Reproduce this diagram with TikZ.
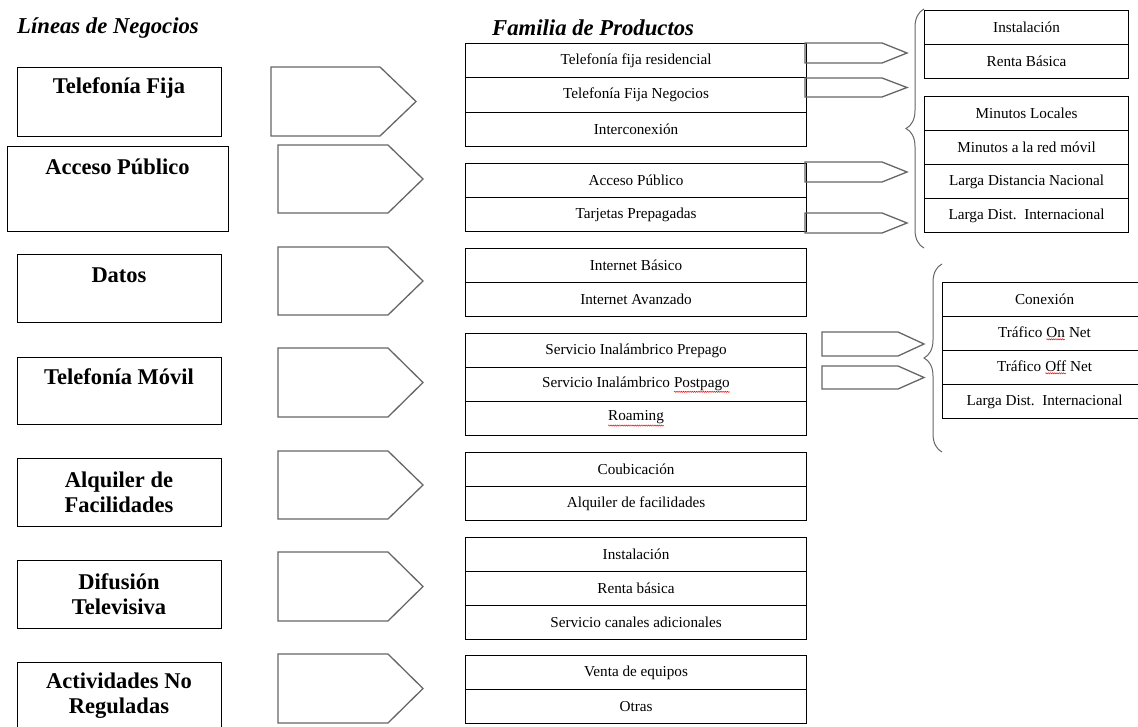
\documentclass[tikz,border=0pt]{standalone}
\usepackage{fontspec}
\setmainfont{Liberation Serif}
\usetikzlibrary{decorations.pathreplacing,decorations.pathmorphing}
% red wavy underline of a spell-checker
\newcommand\spellmark[1]{\tikz[baseline=(sw.base)]{%
  \node[inner sep=0pt,outer sep=0pt,draw=none,minimum width=0pt,minimum height=0pt] (sw) {#1};
  \draw[red,line width=0.5pt,decorate,decoration={snake,amplitude=0.6pt,segment length=2.2pt}]
    ([yshift=-1.5pt]sw.south west) -- ([yshift=-1.5pt]sw.south east);}}
\begin{document}
\begin{tikzpicture}[x=1pt,y=-1pt,
  cell/.style={draw=black,line width=1.1pt,rectangle,inner sep=0pt,anchor=north west,
    minimum height=34pt,font=\fontsize{15.2}{17}\selectfont},
  pcell/.style={cell,minimum width=341pt},
  rcell/.style={cell,minimum width=204pt},
  mcell/.style={cell,minimum width=204pt},
  linebox/.style={draw=black,line width=1.2pt,rectangle,inner sep=0pt,anchor=north west},
  linetext/.style={font=\fontsize{22.5}{25}\selectfont\bfseries,align=center,inner sep=0pt},
  heading/.style={font=\fontsize{22.7}{25}\selectfont\bfseries\itshape,inner sep=0pt,anchor=west},
  blockarrow/.style={draw=black!60,line width=1.3pt,line join=miter},
  curly/.style={draw=black!60,line width=1pt,decorate,decoration={brace,amplitude=18pt}},
]
\clip (0,0) rectangle (1138,727);

% headings
\node[heading] (hLineas) at (17,28) {Líneas de Negocios};
\node[heading] (hFamilia) at (492,28) {Familia de Productos};

% business lines
\node[linebox,minimum width=204pt,minimum height=69pt] (bTF) at (17,67) {};
\node[linetext] (bTFt) at (119,88) {Telefonía Fija};
\node[linebox,minimum width=221pt,minimum height=85pt] (bAP) at (7,146) {};
\node[linetext] (bAPt) at (117.5,167) {Acceso Público};
\node[linebox,minimum width=204pt,minimum height=68pt] (bDa) at (17,254) {};
\node[linetext] (bDat) at (119,275) {Datos};
\node[linebox,minimum width=204pt,minimum height=67pt] (bTM) at (17,357) {};
\node[linetext] (bTMt) at (119,377) {Telefonía Móvil};
\node[linebox,minimum width=204pt,minimum height=68pt] (bAF) at (17,458) {};
\node[linetext] (bAFt) at (119,492.5) {Alquiler de\\Facilidades};
\node[linebox,minimum width=204pt,minimum height=68pt] (bDT) at (17,560) {};
\node[linetext] (bDTt) at (119,594.5) {Difusión\\Televisiva};
\node[linebox,minimum width=204pt,minimum height=90pt] (bAN) at (17,662) {};
\node[linetext] (bANt) at (119,695.5) {Actividades No\\Reguladas};

% large block arrows
\draw[blockarrow] (271,67) -- (380,67) -- (416,101.5) -- (380,136) -- (271,136) -- cycle;
\foreach \t/\b in {145/213,247/315,348/417,451/519,552/621,654/723}
  \draw[blockarrow] (278,\t) -- (388,\t) -- (423,{(\t+\b)/2}) -- (388,\b) -- (278,\b) -- cycle;

% product families
\node[pcell,minimum height=34.3pt] (p11) at (465,43) {Telefonía fija residencial};
\node[pcell,minimum height=34.3pt] (p12) at (465,77.3) {Telefonía Fija Negocios};
\node[pcell,minimum height=34.3pt] (p13) at (465,111.6) {Interconexión};
\node[pcell] (p21) at (465,163) {Acceso Público};
\node[pcell] (p22) at (465,197) {Tarjetas Prepagadas};
\node[pcell] (p31) at (465,248) {Internet Básico};
\node[pcell] (p32) at (465,282) {Internet Avanzado};
\node[pcell] (p41) at (465,333) {Servicio Inalámbrico Prepago};
\node[pcell] (p42) at (465,367) {Servicio Inalámbrico \spellmark{Postpago}};
\node[pcell] (p43) at (465,401) {\spellmark{Roaming}};
\node[pcell] (p51) at (465,452) {Coubicación};
\node[pcell] (p52) at (465,486) {Alquiler de facilidades};
\node[pcell] (p61) at (465,537) {Instalación};
\node[pcell] (p62) at (465,571) {Renta básica};
\node[pcell] (p63) at (465,605) {Servicio canales adicionales};
\node[pcell] (p71) at (465,655) {Venta de equipos};
\node[pcell] (p72) at (465,689) {Otras};

% small block arrows
\foreach \t/\b in {43/63,78/97,162/182,213/233}
  \draw[blockarrow] (805,\t) -- (882,\t) -- (907,{(\t+\b)/2}) -- (882,\b) -- (805,\b) -- cycle;
\foreach \t/\b in {332/356,366/389}
  \draw[blockarrow] (822,\t) -- (898,\t) -- (924,{(\t+\b)/2}) -- (898,\b) -- (822,\b) -- cycle;

% braces
\draw[curly] (924,248) -- (924,9);
\draw[curly] (942,452) -- (942,264);

% fixed-line components
\node[rcell] (r11) at (924,10) {Instalación};
\node[rcell] (r12) at (924,44) {Renta Básica};
\node[rcell] (r21) at (924,96) {Minutos Locales};
\node[rcell] (r22) at (924,130) {Minutos a la red móvil};
\node[rcell] (r23) at (924,164) {Larga Distancia Nacional};
\node[rcell] (r24) at (924,198) {Larga Dist.\ \ Internacional};

% mobile components
\node[mcell] (m1) at (942,282) {Conexión};
\node[mcell] (m2) at (942,316) {Tráfico \spellmark{On} Net};
\node[mcell] (m3) at (942,350) {Tráfico \spellmark{Off} Net};
\node[mcell] (m4) at (942,384) {Larga Dist.\ \ Internacional};
\end{tikzpicture}
\end{document}
